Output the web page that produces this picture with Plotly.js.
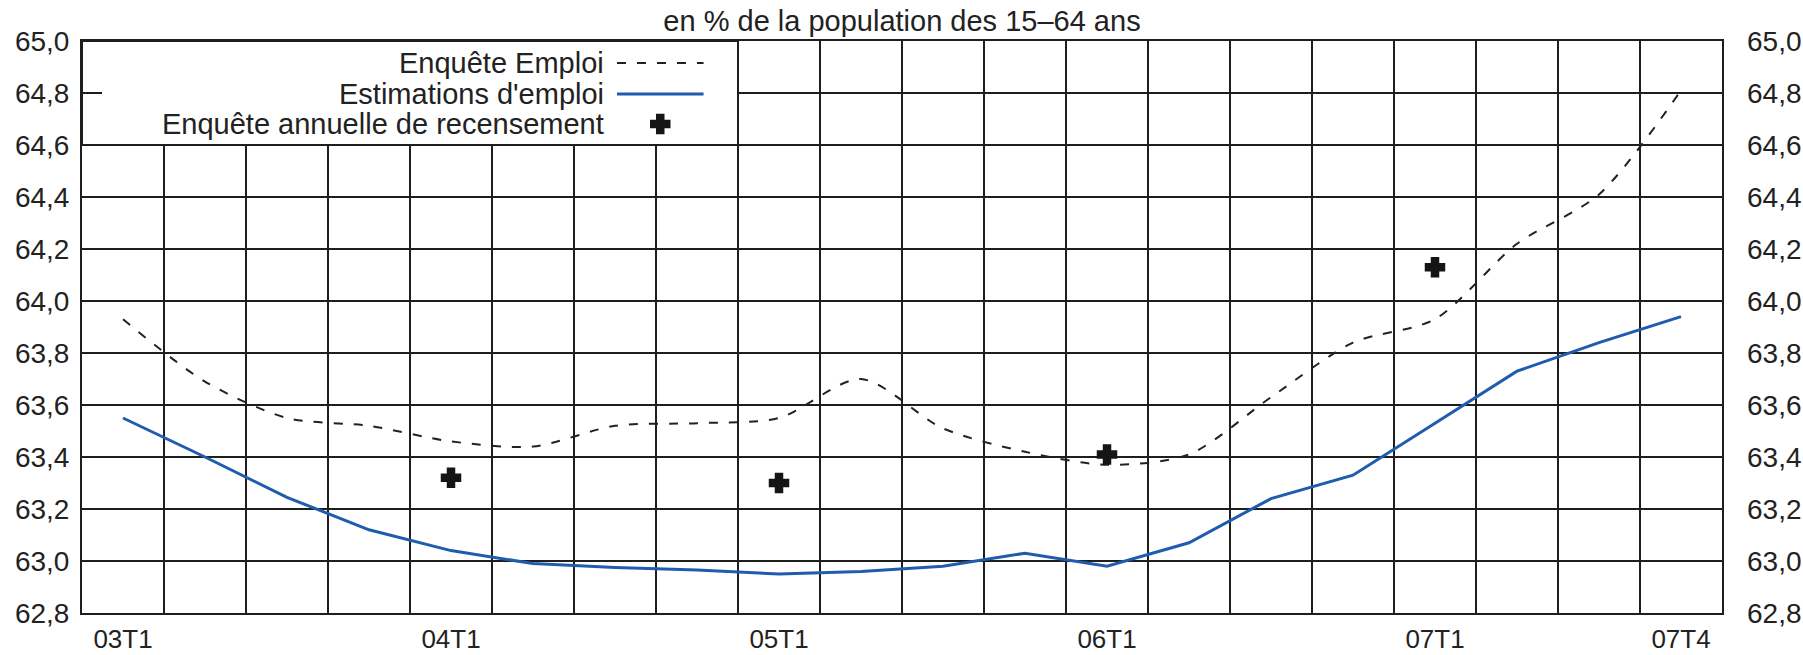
<!DOCTYPE html>
<html>
<head>
<meta charset="utf-8">
<script src="https://cdn.plot.ly/plotly-3.0.1.min.js"></script>
<style>html,body{margin:0;padding:0;background:#fff;}#chart{width:1803px;height:655px;}</style>
</head>
<body>
<div id="chart"></div>
<script>
// Quarter index 0 = 03T1 ... 19 = 07T4
const quarters = ["03T1","03T2","03T3","03T4","04T1","04T2","04T3","04T4","05T1","05T2","05T3","05T4","06T1","06T2","06T3","06T4","07T1","07T2","07T3","07T4"];
const enqueteEmploi = [63.93,63.69,63.55,63.52,63.46,63.44,63.52,63.53,63.55,63.70,63.51,63.42,63.37,63.41,63.63,63.84,63.93,64.22,64.41,64.81];
const estimationsEmploi = [63.55,63.40,63.245,63.12,63.04,62.99,62.975,62.965,62.95,62.96,62.98,63.03,62.98,63.07,63.24,63.33,63.53,63.73,63.84,63.94];
const recensementQuarters = ["04T1","05T1","06T1","07T1"];
const recensementValues = [63.32,63.30,63.41,64.13];
const tickLabels = ["03T1","04T1","05T1","06T1","07T1","07T4"];
const seriesNames = ["Enquête Emploi","Estimations d'emploi","Enquête annuelle de recensement"];
const titleText = "en % de la population des 15–64 ans";

const xIdx = quarters.map((q,i)=>i);
const recX = recensementQuarters.map(q=>quarters.indexOf(q));
const tickVals = tickLabels.map(q=>quarters.indexOf(q));

const FONT = "Liberation Sans, Arial, Helvetica, sans-serif";
const TXT = "#222";
const GRID = "#1e1e1e";
const BLUE = "#1f5cae";

// legend layout (paper fractions of the plot area)
const legRows = [0.9616, 0.9074, 0.8550];
const legTextX = 0.3197;
const legSym = [0.3262, 0.3790];

const crossMarker = {symbol:"cross", size:15, color:"#151515", line:{width:2.5, color:"#151515"}};

const traces = [
  {x:xIdx, y:enqueteEmploi, type:"scatter", mode:"lines", name:seriesNames[0],
   line:{color:"#222", width:2, dash:"9px,11px", shape:"spline", smoothing:0.8}, showlegend:false, hoverinfo:"skip"},
  {x:xIdx, y:estimationsEmploi, type:"scatter", mode:"lines", name:seriesNames[1],
   line:{color:BLUE, width:3}, showlegend:false, hoverinfo:"skip"},
  {x:recX, y:recensementValues, type:"scatter", mode:"markers", name:seriesNames[2], yaxis:"y2",
   marker:crossMarker, showlegend:false, hoverinfo:"skip"},
  // legend samples on a hidden unit axis
  {x:legSym, y:[legRows[0],legRows[0]], xaxis:"x3", yaxis:"y3", type:"scatter", mode:"lines",
   line:{color:"#222", width:2, dash:"9px,11px"}, showlegend:false, hoverinfo:"skip"},
  {x:legSym, y:[legRows[1],legRows[1]], xaxis:"x3", yaxis:"y3", type:"scatter", mode:"lines",
   line:{color:BLUE, width:3}, showlegend:false, hoverinfo:"skip"},
  {x:[(legSym[0]+legSym[1])/2], y:[legRows[2]], xaxis:"x3", yaxis:"y3", type:"scatter", mode:"markers",
   marker:crossMarker, showlegend:false, hoverinfo:"skip"}
];

const yRange = [62.8, 65.0];
const layout = {
  width:1803, height:655,
  margin:{l:82, r:81, t:41, b:42},
  paper_bgcolor:"#fff", plot_bgcolor:"#fff",
  separators:", ",
  font:{family:FONT, size:27, color:TXT},
  title:{text:titleText, font:{family:FONT, size:29, color:TXT}, x:0.5, xref:"paper", xanchor:"center",
         y:1-21/655, yref:"container", yanchor:"middle"},
  xaxis:{range:[-0.5,19.5], tickmode:"array", tickvals:tickVals, ticktext:tickLabels, showgrid:false,
         ticks:"", showline:true, mirror:true, linecolor:GRID, linewidth:2, zeroline:false,
         ticklabelstandoff:2, tickfont:{family:FONT, size:26, color:TXT},
         minor:{tickmode:"linear", tick0:-0.5, dtick:1, showgrid:true, gridcolor:GRID, gridwidth:2, ticks:""}},
  yaxis:{range:yRange, dtick:0.2, tick0:62.8, tickformat:".1f", showgrid:true, gridcolor:GRID, gridwidth:2,
         ticks:"inside", ticklen:20, tickwidth:2, tickcolor:GRID,
         showline:true, mirror:true, linecolor:GRID, linewidth:2, zeroline:false,
         ticklabelstandoff:5, tickfont:{family:FONT, size:28, color:TXT}},
  yaxis2:{range:yRange, dtick:0.2, tick0:62.8, tickformat:".1f", overlaying:"y", side:"right", showgrid:false,
          ticks:"", showline:false, zeroline:false, ticklabelstandoff:24, tickfont:{family:FONT, size:28, color:TXT}},
  xaxis3:{range:[0,1], visible:false, fixedrange:true, overlaying:"x", anchor:"y3"},
  yaxis3:{range:[0,1], visible:false, fixedrange:true, overlaying:"y", anchor:"x3"},
  shapes:[
    {type:"rect", xref:"x", yref:"y", x0:-0.5, x1:7.5, y0:64.6, y1:65.0, layer:"between",
     fillcolor:"#fff", line:{color:GRID, width:2}}
  ],
  annotations: seriesNames.map((n,i)=>({
    text:n, xref:"paper", yref:"paper", x:legTextX, y:legRows[i],
    xanchor:"right", yanchor:"middle", showarrow:false, font:{family:FONT, size:29, color:TXT}
  }))
};

Plotly.newPlot("chart", traces, layout, {staticPlot:true, displayModeBar:false});
</script>
</body>
</html>
